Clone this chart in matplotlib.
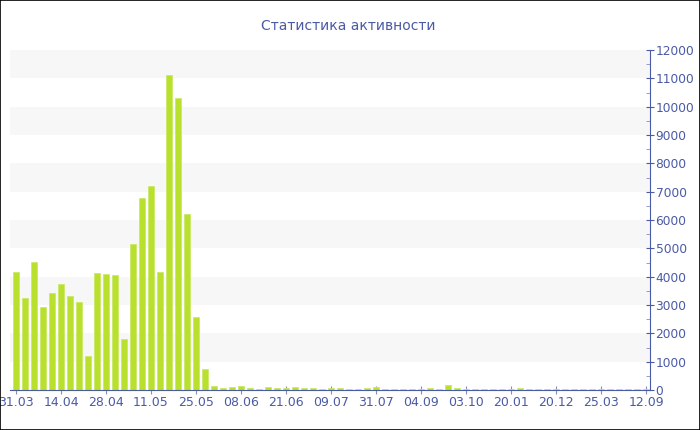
import numpy as np
import matplotlib.pyplot as plt
from matplotlib.patches import Rectangle

# activity counts per period
values = [4180, 3240, 4510, 2920, 3410, 3740, 3330, 3090, 1200, 4120,
          4090, 4060, 1790, 5140, 6770, 7190, 4180, 11120, 10320, 6200,
          2580, 735, 140, 60, 115, 125, 70, 45, 115, 80,
          60, 95, 60, 60, 45, 60, 70, 35, 35, 70,
          120, 35, 35, 35, 35, 35, 60, 35, 170, 70,
          45, 35, 35, 35, 35, 35, 60, 30, 30, 30,
          30, 30, 30, 30, 30, 30, 30, 30, 30, 30, 30]
tick_labels = ['31.03', '14.04', '28.04', '11.05', '25.05', '08.06', '21.06',
               '09.07', '31.07', '04.09', '03.10', '20.01', '20.12', '25.03',
               '12.09']

blue = '#4a5aa5'
green = '#b8e02c'

fig = plt.figure(figsize=(7, 4.3), dpi=100)
ax = fig.add_axes([10/700, 40/430, 640/700, 340/430])

x = np.arange(len(values))
ax.bar(x, values, width=0.68, color=green, edgecolor='#c8e860', linewidth=0.5, zorder=3)

ax.set_xlim(-0.67, 70.44)
ax.set_ylim(0, 12000)

# alternating background bands
for lo in range(1000, 12000, 2000):
    ax.axhspan(lo, lo + 1000, color='#f7f7f7', zorder=0, lw=0)

ax.set_xticks(x[::5])
ax.set_xticklabels(tick_labels)
ax.set_yticks(range(0, 12001, 1000))
ax.set_yticks(range(500, 12000, 1000), minor=True)
ax.yaxis.tick_right()

for s in ['top', 'left']:
    ax.spines[s].set_visible(False)
ax.spines['right'].set_color(blue)
ax.spines['bottom'].set_color(blue)
ax.spines['bottom'].set_zorder(4)

ax.tick_params(axis='x', direction='inout', length=6, color='#8890b0',
               labelcolor=blue, labelsize=9, pad=1)
ax.tick_params(axis='y', which='major', direction='inout', length=6, color=blue,
               labelcolor=blue, labelsize=8.8, pad=1)
ax.tick_params(axis='y', which='minor', direction='in', length=3, color='#8890b0')

fig.text(0.497, 0.94, 'Статистика активности', color=blue, fontsize=10,
         ha='center', va='center')

fig.patches.append(Rectangle((0, 0), 1, 1, transform=fig.transFigure,
                             fill=False, edgecolor='black', linewidth=1.2))

fig.savefig('out.png')
